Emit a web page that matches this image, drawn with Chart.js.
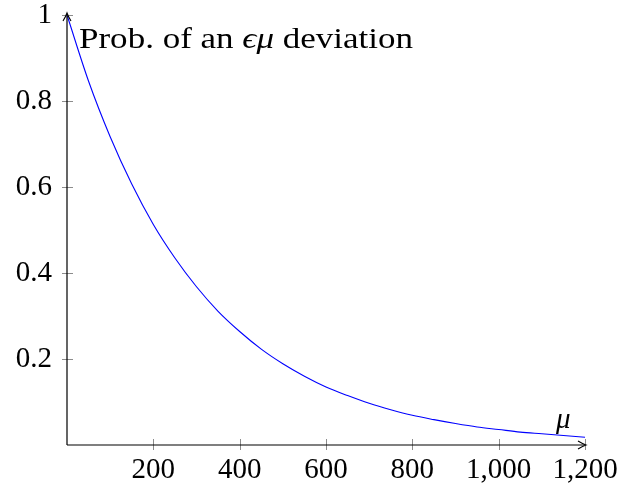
<html>
<head>
<script src="https://cdn.jsdelivr.net/npm/chart.js"></script>
<title>Prob. of deviation</title>
<style>
  body { margin: 0; background: #fff; }
</style>
</head>
<body>
<canvas id="myChart" width="621" height="489"></canvas>
<script>
// values
const muValues = [0, 50, 100, 150, 200, 250, 300, 350, 400, 450, 500, 550, 600,
                  650, 700, 750, 800, 850, 900, 950, 1000, 1050, 1100, 1150, 1200];
const probValues = [1, 0.846, 0.717, 0.607, 0.513, 0.435, 0.368, 0.311, 0.264, 0.223, 0.189, 0.160, 0.135,
                    0.115, 0.097, 0.082, 0.069, 0.059, 0.050, 0.042, 0.036, 0.030, 0.026, 0.022, 0.018];
const xTickValues = [200, 400, 600, 800, 1000, 1200];
const yTickValues = [0.2, 0.4, 0.6, 0.8, 1];

const serif = '"Liberation Serif", "DejaVu Serif", serif';

// draws a text run stretched to a given width (Computer Modern is wider than Times)
function drawRuns(ctx, runs, x, y, targetWidth) {
    let natural = 0;
    runs.forEach(r => { ctx.font = r.font; natural += ctx.measureText(r.text).width; });
    const sx = targetWidth / natural;
    ctx.save();
    ctx.translate(x, y);
    ctx.scale(sx, 1);
    let cx = 0;
    runs.forEach(r => {
        ctx.font = r.font;
        ctx.fillText(r.text, cx, 0);
        cx += ctx.measureText(r.text).width;
    });
    ctx.restore();
}

// axes with arrows, crossing tick marks and the text labels
const axesPlugin = {
    id: 'axes',
    afterDraw(chart) {
        const ctx = chart.ctx;
        const x = chart.scales.x, y = chart.scales.y;
        const x0 = x.getPixelForValue(0), x1 = x.getPixelForValue(1200);
        const y0 = y.getPixelForValue(0), y1 = y.getPixelForValue(1);
        ctx.save();

        // tick marks
        ctx.strokeStyle = '#8c8c8c';
        ctx.lineWidth = 1;
        ctx.beginPath();
        xTickValues.forEach(v => {
            const px = Math.round(x.getPixelForValue(v)) + 0.5;
            ctx.moveTo(px, y0 - 6);
            ctx.lineTo(px, y0 + 5);
        });
        yTickValues.forEach(v => {
            const py = Math.round(y.getPixelForValue(v)) + 0.5;
            ctx.moveTo(x0 - 5, py);
            ctx.lineTo(x0 + 6, py);
        });
        ctx.stroke();

        // axis lines
        ctx.strokeStyle = '#000';
        ctx.lineWidth = 1.2;
        ctx.beginPath();
        ctx.moveTo(x0, y0);
        ctx.lineTo(x1, y0);
        ctx.moveTo(x0, y0);
        ctx.lineTo(x0, y1 - 1);
        ctx.stroke();

        // arrow heads
        ctx.lineWidth = 1.1;
        ctx.beginPath();
        ctx.moveTo(x1 - 7, y0 - 4);
        ctx.quadraticCurveTo(x1 - 2, y0 - 1, x1 + 1, y0);
        ctx.quadraticCurveTo(x1 - 2, y0 + 1, x1 - 7, y0 + 4);
        ctx.moveTo(x0 - 4, y1 + 6);
        ctx.quadraticCurveTo(x0 - 1, y1 + 1, x0, y1 - 2);
        ctx.quadraticCurveTo(x0 + 1, y1 + 1, x0 + 4, y1 + 6);
        ctx.stroke();

        // title text with italic symbols
        ctx.fillStyle = '#000';
        ctx.textBaseline = 'alphabetic';
        ctx.textAlign = 'left';
        drawRuns(ctx, [
            { text: 'Prob. of an ', font: '29px ' + serif },
            { text: '\u03f5\u03bc', font: 'italic 29px ' + serif },
            { text: ' deviation', font: '29px ' + serif }
        ], 79, 48, 334);

        // axis label mu
        ctx.font = 'italic 29px ' + serif;
        ctx.fillText('\u03bc', 556, 428);
        ctx.restore();
    }
};

const data = {
    datasets: [{
        label: 'prob',
        data: muValues.map((m, i) => ({ x: m, y: probValues[i] })),
        borderColor: '#0000ff',
        borderWidth: 1.1,
        pointRadius: 0,
        fill: false,
        cubicInterpolationMode: 'monotone',
        clip: false
    }]
};

const config = {
    type: 'line',
    data: data,
    options: {
        responsive: false,
        animation: false,
        layout: { padding: { top: 15, right: 36, left: 0, bottom: 0 } },
        plugins: { legend: { display: false }, tooltip: { enabled: false } },
        scales: {
            x: {
                type: 'linear',
                min: 0,
                max: 1200,
                grid: { display: false, drawTicks: false },
                border: { display: false },
                afterBuildTicks: (s) => { s.ticks = xTickValues.map(v => ({ value: v })); },
                afterFit: (s) => { s.height = 44; s.paddingLeft = 0; s.paddingRight = 0; },
                ticks: {
                    color: '#000',
                    padding: 11,
                    maxRotation: 0,
                    autoSkip: false,
                    font: { family: serif, size: 29, lineHeight: 1 },
                    callback: (v) => v.toLocaleString('en-US')
                }
            },
            y: {
                min: 0,
                max: 1,
                grid: { display: false, drawTicks: false },
                border: { display: false },
                afterBuildTicks: (s) => { s.ticks = yTickValues.map(v => ({ value: v })); },
                afterFit: (s) => { s.width = 67; s.paddingTop = 0; s.paddingBottom = 0; },
                ticks: {
                    color: '#000',
                    padding: 15,
                    autoSkip: false,
                    font: { family: serif, size: 29, lineHeight: 1 },
                    callback: (v) => String(v)
                }
            }
        }
    },
    plugins: [axesPlugin]
};

const myChart = new Chart(document.getElementById('myChart'), config);
</script>
</body>
</html>
